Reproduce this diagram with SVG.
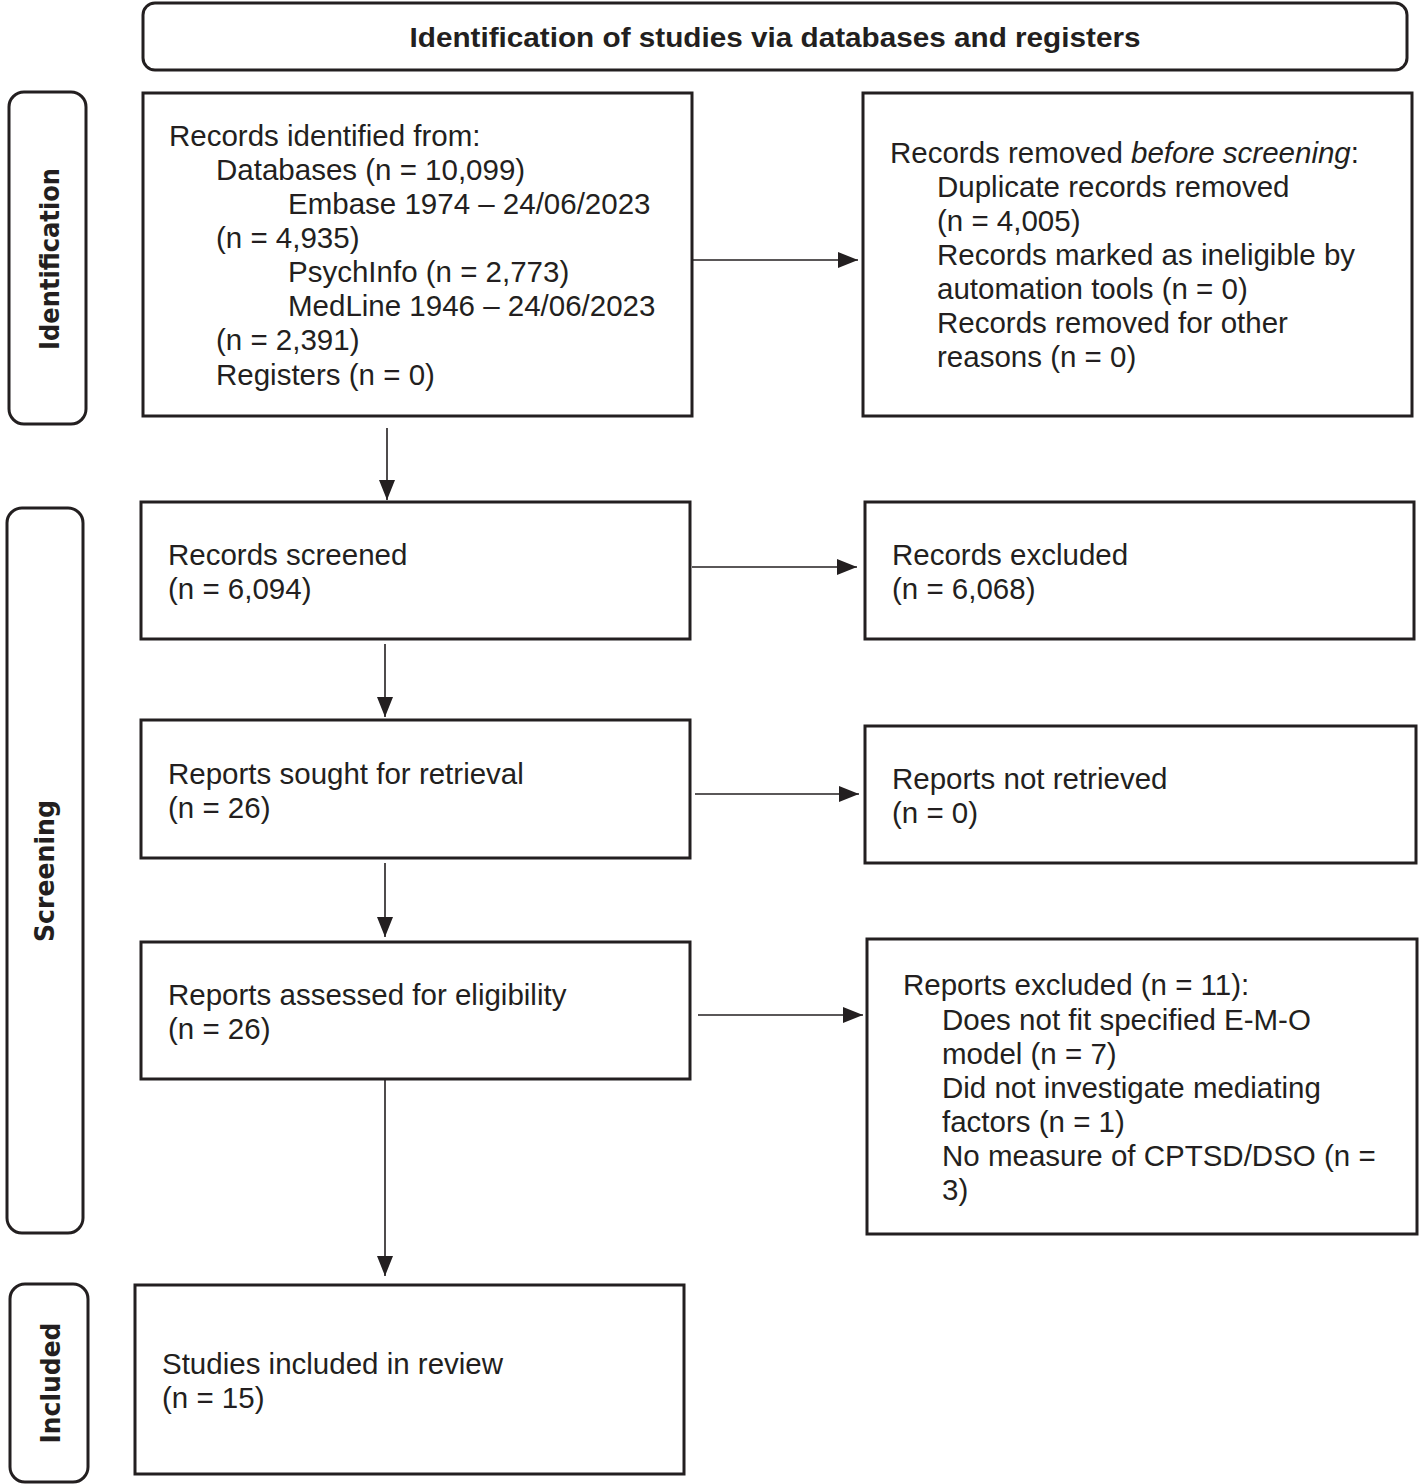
<svg xmlns="http://www.w3.org/2000/svg" width="1419" height="1484" viewBox="0 0 1419 1484">
<style>
.box{fill:#fff;stroke:#231f20;stroke-width:3}
.side{fill:#fff;stroke:#231f20;stroke-width:3}
.t{font-family:"Liberation Sans",Arial,sans-serif;font-size:29.5px;fill:#231f20}
.title{font-family:"Liberation Sans",Arial,sans-serif;font-size:28px;font-weight:bold;fill:#231f20}
.lab{font-family:"DejaVu Sans",Verdana,sans-serif;font-size:27px;font-weight:bold;fill:#231f20}
.c{stroke:#231f20;stroke-width:1.6;fill:none;marker-end:url(#ah)}
</style>
<defs>
<marker id="ah" viewBox="0 0 20 16" refX="20" refY="8" markerWidth="20" markerHeight="16" markerUnits="userSpaceOnUse" orient="auto">
<path d="M0,0 L20,8 L0,16 Z" fill="#231f20"/>
</marker>
</defs>
<rect width="1419" height="1484" fill="#fff"/>

<g id="header">
<rect class="side" x="143" y="3" width="1264" height="67" rx="12"/>
<text class="title" x="775" y="47" text-anchor="middle" textLength="731" lengthAdjust="spacingAndGlyphs">Identification of studies via databases and registers</text>
</g>

<g id="stage-identification">
<rect class="side" x="9" y="92" width="77" height="332" rx="15"/>
<text class="lab" transform="translate(49,259) rotate(-90)" text-anchor="middle" dominant-baseline="central" textLength="182" lengthAdjust="spacingAndGlyphs">Identification</text>
</g>
<g id="stage-screening">
<rect class="side" x="7" y="508" width="76" height="725" rx="15"/>
<text class="lab" transform="translate(44,871) rotate(-90)" text-anchor="middle" dominant-baseline="central" textLength="142" lengthAdjust="spacingAndGlyphs">Screening</text>
</g>
<g id="stage-included">
<rect class="side" x="10" y="1284" width="78" height="198" rx="15"/>
<text class="lab" transform="translate(50,1383) rotate(-90)" text-anchor="middle" dominant-baseline="central" textLength="121" lengthAdjust="spacingAndGlyphs">Included</text>
</g>

<g id="records-identified">
<rect class="box" x="143" y="93" width="549" height="323"/>
<text class="t" x="169" y="146">Records identified from:</text>
<text class="t" x="216" y="180">Databases (n = 10,099)</text>
<text class="t" x="288" y="214">Embase 1974 – 24/06/2023</text>
<text class="t" x="216" y="248">(n = 4,935)</text>
<text class="t" x="288" y="282">PsychInfo (n = 2,773)</text>
<text class="t" x="288" y="316">MedLine 1946 – 24/06/2023</text>
<text class="t" x="216" y="350">(n = 2,391)</text>
<text class="t" x="216" y="385">Registers (n = 0)</text>
</g>

<g id="records-removed">
<rect class="box" x="863" y="93" width="549" height="323"/>
<text class="t" x="890" y="163">Records removed <tspan font-style="italic">before screening</tspan>:</text>
<text class="t" x="937" y="197">Duplicate records removed</text>
<text class="t" x="937" y="231">(n = 4,005)</text>
<text class="t" x="937" y="265">Records marked as ineligible by</text>
<text class="t" x="937" y="299">automation tools (n = 0)</text>
<text class="t" x="937" y="333">Records removed for other</text>
<text class="t" x="937" y="367">reasons (n = 0)</text>
</g>

<g id="records-screened">
<rect class="box" x="141" y="502" width="549" height="137"/>
<text class="t" x="168" y="565">Records screened</text>
<text class="t" x="168" y="599">(n = 6,094)</text>
</g>

<g id="records-excluded">
<rect class="box" x="865" y="502" width="549" height="137"/>
<text class="t" x="892" y="565">Records excluded</text>
<text class="t" x="892" y="599">(n = 6,068)</text>
</g>

<g id="reports-sought">
<rect class="box" x="141" y="720" width="549" height="138"/>
<text class="t" x="168" y="784">Reports sought for retrieval</text>
<text class="t" x="168" y="818">(n = 26)</text>
</g>

<g id="reports-not-retrieved">
<rect class="box" x="865" y="726" width="551" height="137"/>
<text class="t" x="892" y="789">Reports not retrieved</text>
<text class="t" x="892" y="823">(n = 0)</text>
</g>

<g id="reports-assessed">
<rect class="box" x="141" y="942" width="549" height="137"/>
<text class="t" x="168" y="1005">Reports assessed for eligibility</text>
<text class="t" x="168" y="1039">(n = 26)</text>
</g>

<g id="reports-excluded">
<rect class="box" x="867" y="939" width="550" height="295"/>
<text class="t" x="903" y="995">Reports excluded (n = 11):</text>
<text class="t" x="942" y="1030">Does not fit specified E-M-O</text>
<text class="t" x="942" y="1064">model (n = 7)</text>
<text class="t" x="942" y="1098">Did not investigate mediating</text>
<text class="t" x="942" y="1132">factors (n = 1)</text>
<text class="t" x="942" y="1166">No measure of CPTSD/DSO (n =</text>
<text class="t" x="942" y="1200">3)</text>
</g>

<g id="studies-included">
<rect class="box" x="135" y="1285" width="549" height="189"/>
<text class="t" x="162" y="1374">Studies included in review</text>
<text class="t" x="162" y="1408">(n = 15)</text>
</g>

<g id="connectors">
<line class="c" x1="387" y1="428" x2="387" y2="500"/>
<line class="c" x1="692" y1="260" x2="858" y2="260"/>
<line class="c" x1="692" y1="567" x2="857" y2="567"/>
<line class="c" x1="385" y1="644" x2="385" y2="717"/>
<line class="c" x1="695" y1="794" x2="859" y2="794"/>
<line class="c" x1="385" y1="863" x2="385" y2="937"/>
<line class="c" x1="698" y1="1015" x2="863" y2="1015"/>
<line class="c" x1="385" y1="1080" x2="385" y2="1276"/>
</g>
</svg>
